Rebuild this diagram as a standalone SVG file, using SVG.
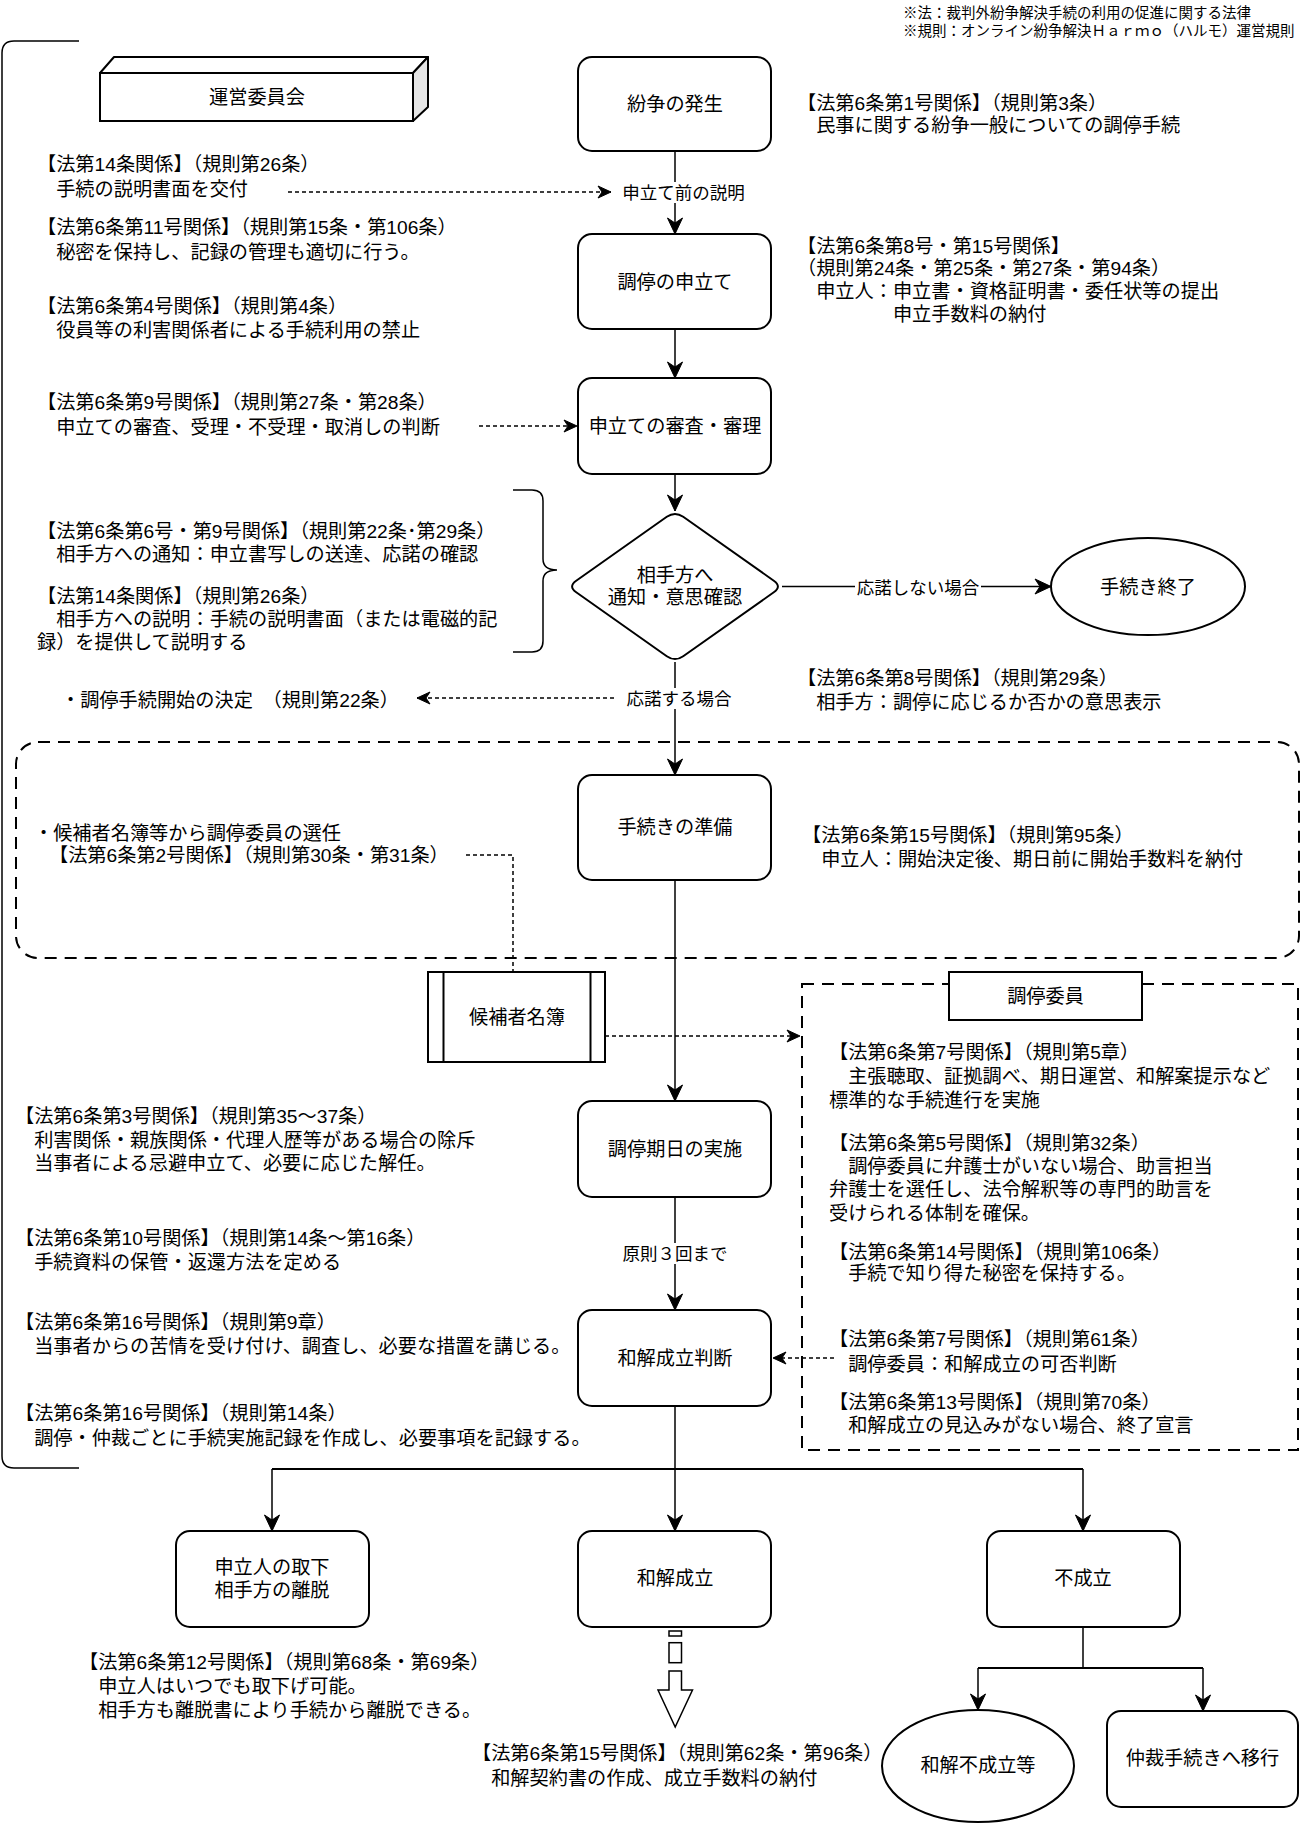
<svg xmlns="http://www.w3.org/2000/svg" width="1301" height="1824" viewBox="0 0 1301 1824">
<style>
.t{font-family:"Liberation Sans","Noto Sans CJK JP",sans-serif;font-size:19.2px;fill:#000}
.c{text-anchor:middle}
.lbl{font-size:17.5px}
.note{font-size:14.5px}
.node{fill:#fff;stroke:#000;stroke-width:2}
.edge{fill:none;stroke:#000;stroke-width:1.5}
.thick{stroke-width:2.2}
.dot{stroke-dasharray:4 3}
.dash{fill:none;stroke:#000;stroke-width:2;stroke-dasharray:12 8}
</style>
<defs>
<marker id="ah" viewBox="-17 -9 18 18" refX="0" refY="0" markerWidth="18" markerHeight="18" markerUnits="userSpaceOnUse" orient="auto">
<path d="M0,0 L-16,-7.5 L-11,0 L-16,7.5 Z" fill="#000" stroke="#000" stroke-width="1"/>
</marker>
<marker id="ahs" viewBox="-15 -8 16 16" refX="0" refY="0" markerWidth="16" markerHeight="16" markerUnits="userSpaceOnUse" orient="auto">
<path d="M0,0 L-13,-6 L-9,0 L-13,6 Z" fill="#000" stroke="#000" stroke-width="1"/>
</marker>
</defs>
<rect width="1301" height="1824" fill="#fff"/>

<!-- background frames -->
<g id="frames">
<path class="edge" d="M79,41 H14 Q2,41 2,53 V1456 Q2,1468 14,1468 H79"/>
<rect class="dash" x="16" y="742" width="1283" height="216" rx="22"/>
<rect class="dash" x="802" y="984" width="496" height="466"/>
<path class="edge" d="M513,490 H532 Q543,490 543,501 V559 Q543,570 557,570 Q543,570 543,581 V641 Q543,652 532,652 H513"/>
</g>

<!-- connectors -->
<g id="connectors">
<path class="edge" d="M675,151 V234" marker-end="url(#ah)"/>
<path class="edge" d="M675,329 V378" marker-end="url(#ah)"/>
<path class="edge" d="M675,474 V511" marker-end="url(#ah)"/>
<path class="edge" d="M782,586.5 H1051" marker-end="url(#ah)"/>
<path class="edge" d="M675,662 V775" marker-end="url(#ah)"/>
<path class="edge" d="M675,880 V1101" marker-end="url(#ah)"/>
<path class="edge" d="M675,1197 V1310" marker-end="url(#ah)"/>
<path class="edge" d="M675,1406 V1469"/>
<path class="edge thick" d="M272,1469 H1083"/>
<path class="edge" d="M272,1469 V1531" marker-end="url(#ah)"/>
<path class="edge" d="M675,1469 V1531" marker-end="url(#ah)"/>
<path class="edge" d="M1083,1469 V1531" marker-end="url(#ah)"/>
<path class="edge" d="M1083,1627 V1668"/>
<path class="edge thick" d="M978,1668 H1203"/>
<path class="edge" d="M978,1668 V1710" marker-end="url(#ah)"/>
<path class="edge" d="M1203,1668 V1711" marker-end="url(#ah)"/>
<path class="edge dot" d="M288,192 H611" marker-end="url(#ahs)"/>
<path class="edge dot" d="M479,426 H577" marker-end="url(#ahs)"/>
<path class="edge dot" d="M614,698 H417" marker-end="url(#ahs)"/>
<path class="edge dot" d="M466,855 H513 V972"/>
<path class="edge dot" d="M605,1036 H800" marker-end="url(#ahs)"/>
<path class="edge dot" d="M834,1358 H773" marker-end="url(#ahs)"/>
<rect x="620" y="182" width="127" height="21" fill="#fff"/>
<text class="t lbl c" x="683.5" y="198.5">申立て前の説明</text>
<rect x="624" y="688" width="110" height="21" fill="#fff"/>
<text class="t lbl c" x="679" y="704.5">応諾する場合</text>
<rect x="855" y="577" width="126" height="21" fill="#fff"/>
<text class="t lbl c" x="918" y="593.5">応諾しない場合</text>
<rect x="620" y="1243" width="110" height="21" fill="#fff"/>
<text class="t lbl c" x="675" y="1259.5">原則３回まで</text>
<g id="flexarrow" fill="#fff" stroke="#000" stroke-width="1.5">
<rect x="669" y="1631" width="12.5" height="5"/>
<rect x="669" y="1642.7" width="12.5" height="20"/>
<path d="M669,1671 V1690 H658 L675.2,1727 L692.5,1690 H681.5 V1671 Z"/>
</g>
</g>

<!-- nodes -->
<g id="n-unei">
<rect class="node" x="100" y="73" width="313" height="48"/>
<polygon points="100,73 114,57 428,57 413,73" fill="#fff" stroke="#000" stroke-width="2" stroke-linejoin="round"/>
<polygon points="413,73 428,57 428,107 413,121" fill="#e6e6e6" stroke="#000" stroke-width="2" stroke-linejoin="round"/>
<text class="t c" x="257" y="104">運営委員会</text>
</g>
<g id="n-funso"><rect class="node" x="578" y="57" width="193" height="94" rx="14"/><text class="t c" x="675" y="111">紛争の発生</text></g>
<g id="n-moshitate"><rect class="node" x="578" y="234" width="193" height="95" rx="14"/><text class="t c" x="675" y="288.5">調停の申立て</text></g>
<g id="n-shinsa"><rect class="node" x="578" y="378" width="193" height="96" rx="14"/><text class="t c" x="675" y="433">申立ての審査・審理</text></g>
<g id="n-kakunin">
<path class="node" d="M683.2,516.8 L773.8,580.7 Q782,586.5 773.8,592.3 L683.2,656.2 Q675,662 666.8,656.2 L576.2,592.3 Q568,586.5 576.2,580.7 L666.8,516.8 Q675,511 683.2,516.8 Z"/>
<text class="t c" x="675" y="582">相手方へ</text>
<text class="t c" x="675" y="604">通知・意思確認</text>
</g>
<g id="n-shuryo"><ellipse class="node" cx="1148" cy="586.5" rx="97" ry="48.5"/><text class="t c" x="1148" y="593.5">手続き終了</text></g>
<g id="n-junbi"><rect class="node" x="578" y="775" width="193" height="105" rx="14"/><text class="t c" x="675" y="834">手続きの準備</text></g>
<g id="n-meibo">
<rect class="node" x="428" y="972" width="177" height="90"/>
<line x1="443.5" y1="972" x2="443.5" y2="1062" stroke="#000" stroke-width="2"/>
<line x1="590.5" y1="972" x2="590.5" y2="1062" stroke="#000" stroke-width="2"/>
<text class="t c" x="517" y="1024">候補者名簿</text>
</g>
<g id="n-iin"><rect class="node" x="949" y="972" width="193" height="48"/><text class="t c" x="1045.5" y="1003">調停委員</text></g>
<g id="n-kijitsu"><rect class="node" x="578" y="1101" width="193" height="96" rx="14"/><text class="t c" x="675" y="1156">調停期日の実施</text></g>
<g id="n-handan"><rect class="node" x="578" y="1310" width="193" height="96" rx="14"/><text class="t c" x="675" y="1365">和解成立判断</text></g>
<g id="n-torisage"><rect class="node" x="176" y="1531" width="193" height="96" rx="14"/><text class="t c" x="272" y="1574">申立人の取下</text><text class="t c" x="272" y="1597">相手方の離脱</text></g>
<g id="n-seiritsu"><rect class="node" x="578" y="1531" width="193" height="96" rx="14"/><text class="t c" x="675" y="1585">和解成立</text></g>
<g id="n-fuseiritsu"><rect class="node" x="987" y="1531" width="193" height="96" rx="14"/><text class="t c" x="1083" y="1585">不成立</text></g>
<g id="n-fuseiritsu-to"><ellipse class="node" cx="978" cy="1766" rx="96" ry="56"/><text class="t c" x="978" y="1772">和解不成立等</text></g>
<g id="n-chusai"><rect class="node" x="1107" y="1711" width="191" height="96" rx="14"/><text class="t c" x="1202.5" y="1765">仲裁手続きへ移行</text></g>

<!-- annotations -->
<g id="notes">
<text class="t note" x="903" y="17.5">※法：裁判外紛争解決手続の利用の促進に関する法律</text>
<text class="t note" x="903" y="35.5">※規則：オンライン紛争解決Ｈａｒｍｏ（ハルモ）運営規則</text>

<text class="t" x="37" y="171">【法第14条関係】（規則第26条）</text>
<text class="t" x="37" y="196">　手続の説明書面を交付</text>
<text class="t" x="37" y="234">【法第6条第11号関係】（規則第15条・第106条）</text>
<text class="t" x="37" y="258.5">　秘密を保持し、記録の管理も適切に行う。</text>
<text class="t" x="37" y="312.5">【法第6条第4号関係】（規則第4条）</text>
<text class="t" x="37" y="337">　役員等の利害関係者による手続利用の禁止</text>
<text class="t" x="37" y="409">【法第6条第9号関係】（規則第27条・第28条）</text>
<text class="t" x="37" y="433.5">　申立ての審査、受理・不受理・取消しの判断</text>
<text class="t" x="37" y="538">【法第6条第6号・第9号関係】（規則第22条･第29条）</text>
<text class="t" x="37" y="560.5">　相手方への通知：申立書写しの送達、応諾の確認</text>
<text class="t" x="37" y="602.5">【法第14条関係】（規則第26条）</text>
<text class="t" x="37" y="626">　相手方への説明：手続の説明書面（または電磁的記</text>
<text class="t" x="37" y="648.5">録）を提供して説明する</text>
<text class="t" x="61" y="707">・調停手続開始の決定　（規則第22条）</text>
<text class="t" x="34" y="840">・候補者名簿等から調停委員の選任</text>
<text class="t" x="49" y="862">【法第6条第2号関係】（規則第30条・第31条）</text>
<text class="t" x="15" y="1123">【法第6条第3号関係】（規則第35～37条）</text>
<text class="t" x="15" y="1146.5">　利害関係・親族関係・代理人歴等がある場合の除斥</text>
<text class="t" x="15" y="1170">　当事者による忌避申立て、必要に応じた解任。</text>
<text class="t" x="15" y="1244.5">【法第6条第10号関係】（規則第14条～第16条）</text>
<text class="t" x="15" y="1268.5">　手続資料の保管・返還方法を定める</text>
<text class="t" x="15" y="1329">【法第6条第16号関係】（規則第9章）</text>
<text class="t" x="15" y="1353">　当事者からの苦情を受け付け、調査し、必要な措置を講じる。</text>
<text class="t" x="15" y="1420">【法第6条第16号関係】（規則第14条）</text>
<text class="t" x="15" y="1445">　調停・仲裁ごとに手続実施記録を作成し、必要事項を記録する。</text>
<text class="t" x="79" y="1669">【法第6条第12号関係】（規則第68条・第69条）</text>
<text class="t" x="79" y="1693">　申立人はいつでも取下げ可能。</text>
<text class="t" x="79" y="1717">　相手方も離脱書により手続から離脱できる。</text>
<text class="t" x="472" y="1760">【法第6条第15号関係】（規則第62条・第96条）</text>
<text class="t" x="472" y="1785">　和解契約書の作成、成立手数料の納付</text>

<text class="t" x="797" y="110">【法第6条第1号関係】（規則第3条）</text>
<text class="t" x="797" y="132">　民事に関する紛争一般についての調停手続</text>
<text class="t" x="797" y="252.5">【法第6条第8号・第15号関係】</text>
<text class="t" x="797" y="274.5">（規則第24条・第25条・第27条・第94条）</text>
<text class="t" x="797" y="297.5">　申立人：申立書・資格証明書・委任状等の提出</text>
<text class="t" x="797" y="320.5">　　　　　申立手数料の納付</text>
<text class="t" x="797" y="685">【法第6条第8号関係】（規則第29条）</text>
<text class="t" x="797" y="709">　相手方：調停に応じるか否かの意思表示</text>
<text class="t" x="802" y="842">【法第6条第15号関係】（規則第95条）</text>
<text class="t" x="802" y="866">　申立人：開始決定後、期日前に開始手数料を納付</text>

<text class="t" x="829" y="1058.5">【法第6条第7号関係】（規則第5章）</text>
<text class="t" x="829" y="1083">　主張聴取、証拠調べ、期日運営、和解案提示など</text>
<text class="t" x="829" y="1107">標準的な手続進行を実施</text>
<text class="t" x="829" y="1150">【法第6条第5号関係】（規則第32条）</text>
<text class="t" x="829" y="1173">　調停委員に弁護士がいない場合、助言担当</text>
<text class="t" x="829" y="1196">弁護士を選任し、法令解釈等の専門的助言を</text>
<text class="t" x="829" y="1220">受けられる体制を確保。</text>
<text class="t" x="829" y="1258.5">【法第6条第14号関係】（規則第106条）</text>
<text class="t" x="829" y="1280">　手続で知り得た秘密を保持する。</text>
<text class="t" x="829" y="1346">【法第6条第7号関係】（規則第61条）</text>
<text class="t" x="829" y="1370.5">　調停委員：和解成立の可否判断</text>
<text class="t" x="829" y="1409">【法第6条第13号関係】（規則第70条）</text>
<text class="t" x="829" y="1432">　和解成立の見込みがない場合、終了宣言</text>
</g>
</svg>
